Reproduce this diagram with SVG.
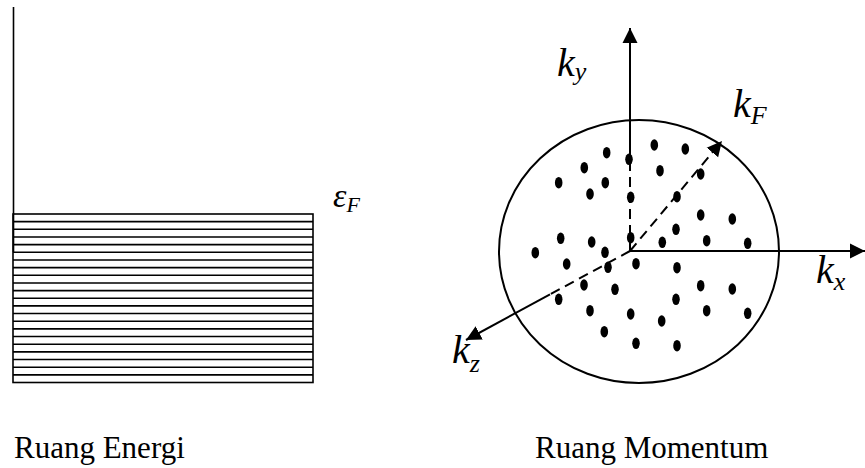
<svg xmlns="http://www.w3.org/2000/svg" width="865" height="468" viewBox="0 0 865 468">
<style>
.ln{stroke:#000;fill:none;stroke-width:1.6}
.ax{stroke:#000;fill:none;stroke-width:2}
.dash{stroke-dasharray:10 6}
.lbl{font-family:"Liberation Serif","Times New Roman",serif;font-style:italic;fill:#000}
.cap{font-family:"Liberation Serif","Times New Roman",serif;font-size:31px;fill:#000}
.dot ellipse{fill:#000;rx:3.8px;ry:5.8px}
</style>
<defs>
<marker id="arr" markerUnits="userSpaceOnUse" markerWidth="16" markerHeight="16" viewBox="0 0 16 16" refX="15" refY="8" orient="auto">
<path d="M0,0.5 L15,8 L0,15.5 Z" fill="#000"/>
</marker>
</defs>
<rect width="865" height="468" fill="#fff"/>

<g id="energy-space">
<line class="ln" x1="13.5" y1="7" x2="13.5" y2="252"/>
<rect class="ln" x="13" y="214" width="300" height="168.5"/>
<path class="ln" d="M13,221.66H313M13,229.32H313M13,236.98H313M13,244.64H313M13,252.3H313M13,259.95H313M13,267.61H313M13,275.27H313M13,282.93H313M13,290.59H313M13,298.25H313M13,305.91H313M13,313.57H313M13,321.23H313M13,328.89H313M13,336.55H313M13,344.2H313M13,351.86H313M13,359.52H313M13,367.18H313M13,374.84H313"/>
</g>

<g id="fermi-sphere">
<ellipse class="ax" cx="639" cy="251.5" rx="140" ry="131.5"/>
<g class="dot">
<ellipse cx="654.3" cy="145" rx="3.8" ry="5.8"/>
<ellipse cx="685.3" cy="149" rx="3.8" ry="5.8"/>
<ellipse cx="606.7" cy="152.7" rx="3.8" ry="5.8"/>
<ellipse cx="629" cy="159.3" rx="3.8" ry="5.8"/>
<ellipse cx="584.3" cy="167.7" rx="3.8" ry="5.8"/>
<ellipse cx="660" cy="170.7" rx="3.8" ry="5.8"/>
<ellipse cx="700.7" cy="174" rx="3.8" ry="5.8"/>
<ellipse cx="558.7" cy="182.7" rx="3.8" ry="5.8"/>
<ellipse cx="605.3" cy="182.7" rx="3.8" ry="5.8"/>
<ellipse cx="590" cy="194" rx="3.8" ry="5.8"/>
<ellipse cx="630.7" cy="197.3" rx="3.8" ry="5.8"/>
<ellipse cx="677" cy="196.7" rx="3.8" ry="5.8"/>
<ellipse cx="700.7" cy="215" rx="3.8" ry="5.8"/>
<ellipse cx="732.3" cy="219" rx="3.8" ry="5.8"/>
<ellipse cx="676" cy="229.3" rx="3.8" ry="5.8"/>
<ellipse cx="560.7" cy="238.3" rx="3.8" ry="5.8"/>
<ellipse cx="591.7" cy="242" rx="3.8" ry="5.8"/>
<ellipse cx="630.7" cy="237.7" rx="3.8" ry="5.8"/>
<ellipse cx="662.3" cy="242.3" rx="3.8" ry="5.8"/>
<ellipse cx="706.7" cy="240.7" rx="3.8" ry="5.8"/>
<ellipse cx="747.7" cy="243.3" rx="3.8" ry="5.8"/>
<ellipse cx="535.3" cy="252.7" rx="3.8" ry="5.8"/>
<ellipse cx="605" cy="252.3" rx="3.8" ry="5.8"/>
<ellipse cx="566.7" cy="264" rx="3.8" ry="5.8"/>
<ellipse cx="608" cy="267.3" rx="3.8" ry="5.8"/>
<ellipse cx="636" cy="263.7" rx="3.8" ry="5.8"/>
<ellipse cx="677" cy="267.7" rx="3.8" ry="5.8"/>
<ellipse cx="584" cy="285" rx="3.8" ry="5.8"/>
<ellipse cx="615" cy="289.3" rx="3.8" ry="5.8"/>
<ellipse cx="700.7" cy="285.7" rx="3.8" ry="5.8"/>
<ellipse cx="732.3" cy="289" rx="3.8" ry="5.8"/>
<ellipse cx="558.7" cy="299.3" rx="3.8" ry="5.8"/>
<ellipse cx="676" cy="299.3" rx="3.8" ry="5.8"/>
<ellipse cx="590" cy="310.7" rx="3.8" ry="5.8"/>
<ellipse cx="630.7" cy="314" rx="3.8" ry="5.8"/>
<ellipse cx="706.7" cy="310.7" rx="3.8" ry="5.8"/>
<ellipse cx="747.7" cy="313.3" rx="3.8" ry="5.8"/>
<ellipse cx="661.7" cy="321" rx="3.8" ry="5.8"/>
<ellipse cx="604.3" cy="331.7" rx="3.8" ry="5.8"/>
<ellipse cx="636" cy="343.3" rx="3.8" ry="5.8"/>
<ellipse cx="677" cy="345.7" rx="3.8" ry="5.8"/>
</g>
</g>

<g id="connectors">
<line class="ax" x1="630" y1="147" x2="630" y2="28" marker-end="url(#arr)"/>
<line class="ax dash" x1="630" y1="251" x2="630" y2="147"/>
<line class="ax" x1="630" y1="251" x2="865" y2="251" marker-end="url(#arr)"/>
<line class="ax dash" x1="630" y1="251" x2="722" y2="141" marker-end="url(#arr)"/>
<line class="ax dash" x1="630" y1="251" x2="550" y2="294.4"/>
<line class="ax" x1="550" y1="294.4" x2="466" y2="340" marker-end="url(#arr)"/>
</g>

<g id="labels">
<text class="lbl" x="333" y="207" font-size="34">ε<tspan font-size="22" dy="5">F</tspan></text>
<text class="lbl" x="557" y="76" font-size="40">k<tspan font-size="26" dy="4">y</tspan></text>
<text class="lbl" x="733" y="117" font-size="40">k<tspan font-size="26" dy="7">F</tspan></text>
<text class="lbl" x="816" y="283" font-size="40">k<tspan font-size="26" dy="7">x</tspan></text>
<text class="lbl" x="452" y="363" font-size="40">k<tspan font-size="26" dy="9">z</tspan></text>
<text class="cap" x="14" y="458">Ruang Energi</text>
<text class="cap" x="535" y="458">Ruang Momentum</text>
</g>
</svg>
